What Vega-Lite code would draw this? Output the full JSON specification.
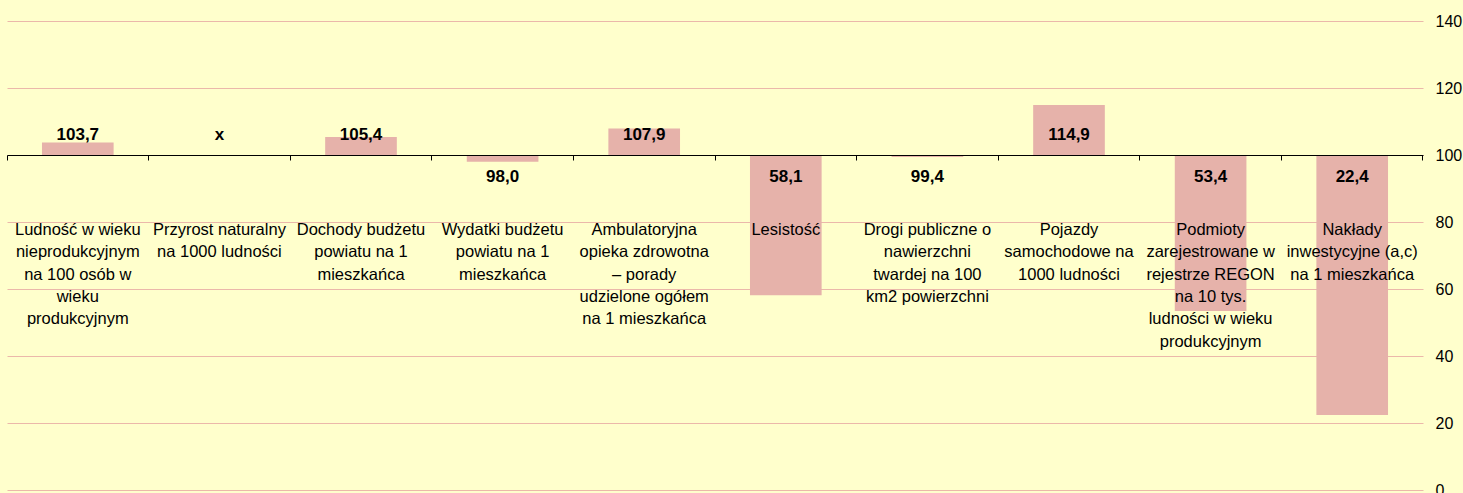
{
  "$schema": "https://vega.github.io/schema/vega-lite/v6.json",
  "width": 1416,
  "height": 469,
  "autosize": "none",
  "padding": {"left": 7, "top": 21, "right": 40, "bottom": 3},
  "background": "#FFFFCC",
  "config": {
    "view": {"stroke": null},
    "font": "Liberation Sans"
  },
  "data": {
    "values": [
      {"cat": "Ludność w wieku nieprodukcyjnym na 100 osób w wieku produkcyjnym", "value": 103.7, "label": "103,7", "lines": ["Ludność w wieku", "nieprodukcyjnym", "na 100 osób w", "wieku", "produkcyjnym"]},
      {"cat": "Przyrost naturalny na 1000 ludności", "value": null, "label": "x", "lines": ["Przyrost naturalny", "na 1000 ludności"]},
      {"cat": "Dochody budżetu powiatu na 1 mieszkańca", "value": 105.4, "label": "105,4", "lines": ["Dochody budżetu", "powiatu na 1", "mieszkańca"]},
      {"cat": "Wydatki budżetu powiatu na 1 mieszkańca", "value": 98.0, "label": "98,0", "lines": ["Wydatki budżetu", "powiatu na 1", "mieszkańca"]},
      {"cat": "Ambulatoryjna opieka zdrowotna – porady udzielone ogółem na 1 mieszkańca", "value": 107.9, "label": "107,9", "lines": ["Ambulatoryjna", "opieka zdrowotna", "– porady", "udzielone ogółem", "na 1 mieszkańca"]},
      {"cat": "Lesistość", "value": 58.1, "label": "58,1", "lines": ["Lesistość"]},
      {"cat": "Drogi publiczne o nawierzchni twardej na 100 km2 powierzchni", "value": 99.4, "label": "99,4", "lines": ["Drogi publiczne o", "nawierzchni", "twardej na 100", "km2 powierzchni"]},
      {"cat": "Pojazdy samochodowe na 1000 ludności", "value": 114.9, "label": "114,9", "lines": ["Pojazdy", "samochodowe na", "1000 ludności"]},
      {"cat": "Podmioty zarejestrowane w rejestrze REGON na 10 tys. ludności w wieku produkcyjnym", "value": 53.4, "label": "53,4", "lines": ["Podmioty", "zarejestrowane w", "rejestrze REGON", "na 10 tys.", "ludności w wieku", "produkcyjnym"]},
      {"cat": "Nakłady inwestycyjne (a,c) na 1 mieszkańca", "value": 22.4, "label": "22,4", "lines": ["Nakłady", "inwestycyjne (a,c)", "na 1 mieszkańca"]}
    ]
  },
  "encoding": {
    "x": {
      "field": "cat",
      "type": "nominal",
      "sort": null,
      "scale": {
        "domain": [
          "Ludność w wieku nieprodukcyjnym na 100 osób w wieku produkcyjnym",
          "Przyrost naturalny na 1000 ludności",
          "Dochody budżetu powiatu na 1 mieszkańca",
          "Wydatki budżetu powiatu na 1 mieszkańca",
          "Ambulatoryjna opieka zdrowotna – porady udzielone ogółem na 1 mieszkańca",
          "Lesistość",
          "Drogi publiczne o nawierzchni twardej na 100 km2 powierzchni",
          "Pojazdy samochodowe na 1000 ludności",
          "Podmioty zarejestrowane w rejestrze REGON na 10 tys. ludności w wieku produkcyjnym",
          "Nakłady inwestycyjne (a,c) na 1 mieszkańca"
        ],
        "paddingInner": 0,
        "paddingOuter": 0
      },
      "axis": {
        "orient": "bottom",
        "offset": -335,
        "labels": false,
        "title": null,
        "bandPosition": 1,
        "tickExtra": true,
        "tickSize": 5,
        "tickColor": "#000000",
        "domainColor": "#000000",
        "grid": false,
        "zindex": 1
      }
    }
  },
  "layer": [
    {
      "mark": {"type": "bar", "width": {"band": 0.506}, "color": "#E6B2AA"},
      "encoding": {
        "y": {
          "field": "value",
          "type": "quantitative",
          "scale": {"domain": [0, 140], "nice": false},
          "axis": {
            "orient": "right",
            "values": [0, 20, 40, 60, 80, 100, 120, 140],
            "ticks": false,
            "domain": false,
            "grid": true,
            "gridColor": "#EBB8AA",
            "gridOpacity": 1,
            "labelPadding": 12,
            "labelFontSize": 16,
            "labelColor": "#000000",
            "labelFont": "Liberation Sans",
            "title": null
          }
        },
        "y2": {"datum": 100}
      }
    },
    {
      "transform": [{"filter": "datum.value == null || datum.value >= 100"}],
      "mark": {"type": "text", "fontWeight": "bold", "fontSize": 17, "baseline": "middle", "color": "#000000"},
      "encoding": {
        "y": {"datum": 106.0, "type": "quantitative"},
        "text": {"field": "label"}
      }
    },
    {
      "transform": [{"filter": "datum.value != null && datum.value < 100"}],
      "mark": {"type": "text", "fontWeight": "bold", "fontSize": 17, "baseline": "middle", "color": "#000000"},
      "encoding": {
        "y": {"datum": 93.3, "type": "quantitative"},
        "text": {"field": "label"}
      }
    },
    {
      "mark": {"type": "text", "fontSize": 16.5, "baseline": "alphabetic", "lineHeight": 22.4, "color": "#000000"},
      "encoding": {
        "y": {"datum": 76.2, "type": "quantitative"},
        "text": {"field": "lines"}
      }
    }
  ]
}
